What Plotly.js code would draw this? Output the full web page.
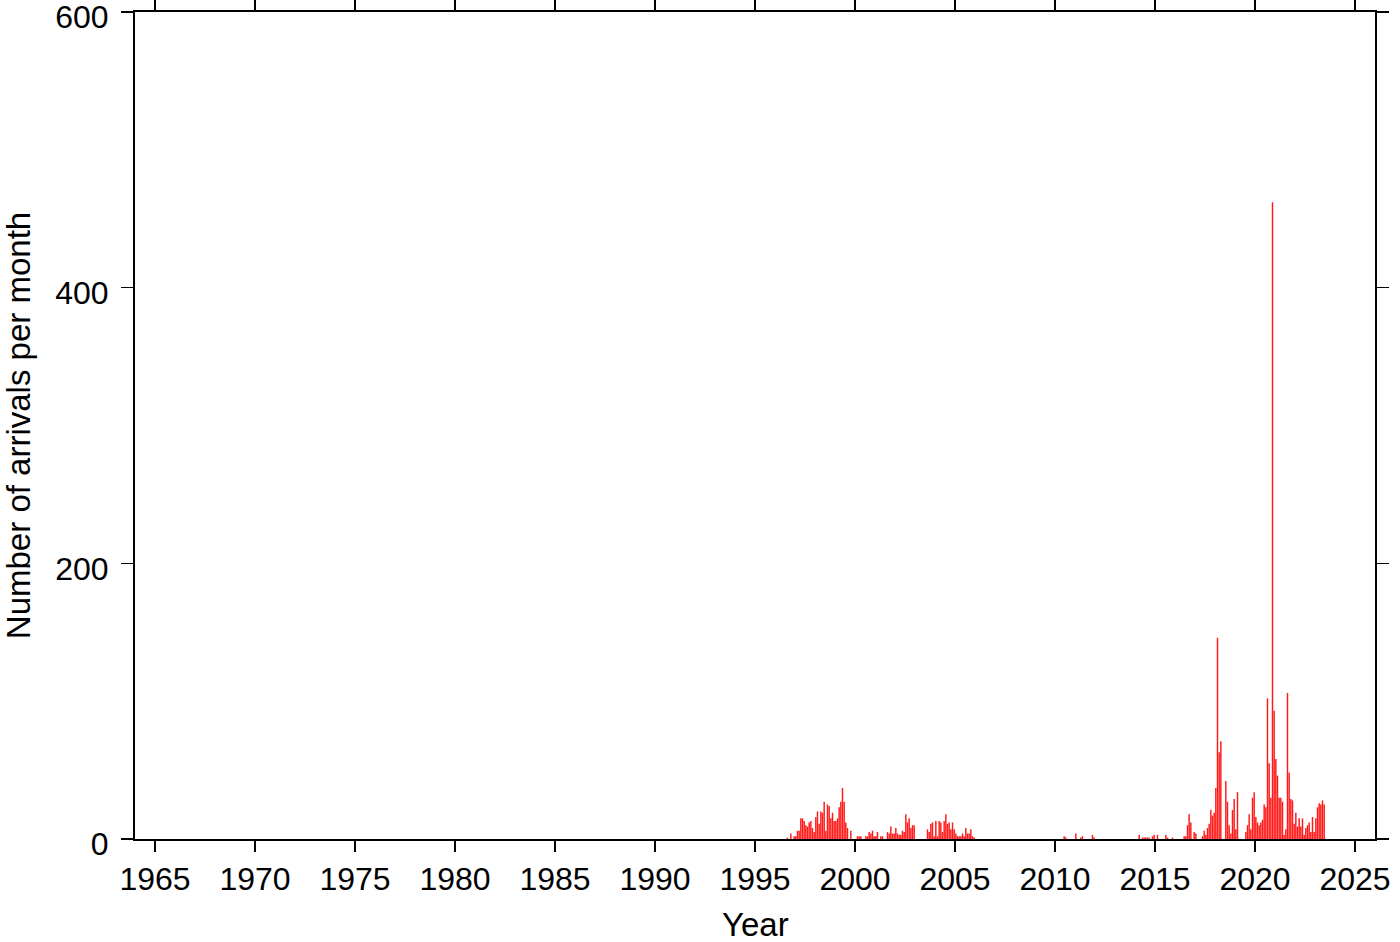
<!DOCTYPE html>
<html><head><meta charset="utf-8">
<script src="https://cdn.plot.ly/plotly-3.0.1.min.js"></script>
<style>html,body{margin:0;padding:0;background:#fff}#chart{width:1400px;height:942px}</style>
</head><body><div id="chart"></div>
<script>
// Monthly arrivals, each segment starts in January of its start year
const startA = 1996;
const countsA = [0,0,0,0,0,0,0,1,0,4,0,2,
  2,6,6,15,15,13,10,9,12,13,8,5,
  16,20,11,20,19,27,6,25,24,15,19,13,
  13,15,23,27,37,27,12,8,0,6,0,0,
  0,2,2,2,0,0,2,2,5,4,6,2,
  2,5,0,2,2,0,0,5,4,9,4,4,
  8,4,3,3,6,5,18,12,15,8,10,10,
  0,0,0,0,0,0,0,7,5,11,12,2,
  13,2,13,12,5,13,18,11,12,7,12,7,
  4,2,2,2,4,2,8,4,4,7,2,1];
const startB = 2009;
const countsB = [0,0,0,0,0,0,0,0,0,0,0,0,
  0,0,0,0,0,2,1,0,0,0,0,0,
  4,0,0,1,2,0,0,0,0,0,3,1,
  0,0,0,0,0,0,0,0,0,0,0,0,
  0,0,0,0,0,0,0,0,0,0,0,0,
  0,0,3,0,1,1,1,1,1,0,2,3,
  0,3,0,0,0,0,3,1,0,0,1,0];
const startC = 2016;
const countsC = [0,0,0,0,0,2,2,10,18,12,0,5,
  4,0,0,0,2,6,3,8,11,21,17,19,
  37,146,63,71,0,0,42,27,10,4,21,29,
  7,34,0,0,0,0,5,10,18,7,30,34,
  16,12,10,12,14,25,23,102,55,30,462,93,
  58,46,30,30,27,3,7,106,48,29,28,11,
  19,9,15,9,15,3,8,10,12,5,16,5,
  15,23,26,25,28,25];
const xTickVals = [1965,1970,1975,1980,1985,1990,1995,2000,2005,2010,2015,2020,2025];
const yTickVals = [0,200,400,600];
const xTitle = 'Year';
const yTitle = 'Number of arrivals per month';

const xs = [], ys = [];
[[startA,countsA],[startB,countsB],[startC,countsC]].forEach(([s,arr])=>{
  arr.forEach((v,m)=>{ xs.push(s + (m+0.5)/12); ys.push(v); });
});

const font = {family:'"Liberation Sans", Arial, Helvetica, sans-serif', size:32, color:'#000'};
const titleFont = {family:'"Liberation Sans", Arial, Helvetica, sans-serif', size:33, color:'#000'};
const trace = {type:'bar', x:xs, y:ys, marker:{color:'#ff1a1a', line:{width:0}}, hoverinfo:'x+y'};
const layout = {
  width:1400, height:942,
  margin:{l:135, r:25, t:12, b:103},
  paper_bgcolor:'#fff', plot_bgcolor:'#fff',
  bargap:0.12,
  showlegend:false,
  font:font,
  xaxis:{range:[1964,2026], tickvals:xTickVals, ticktext:xTickVals.map(String),
    ticks:'outside', ticklen:11, tickwidth:1.2, tickcolor:'#000',
    showline:true, linewidth:2, linecolor:'#000', mirror:'ticks',
    showgrid:false, zeroline:false, tickfont:font, ticklabeloverflow:'allow'},
  yaxis:{range:[0,600], tickvals:yTickVals, ticktext:yTickVals.map(String),
    ticks:'outside', ticklen:12, tickwidth:1.2, tickcolor:'#000',
    showline:true, linewidth:2, linecolor:'#000', mirror:'ticks',
    showgrid:false, zeroline:false, tickfont:font, ticklabeloverflow:'allow',
    ticklabelstandoff:6, ticklabelshift:5,
    title:{text:yTitle, font:titleFont, standoff:21}},
  annotations:[{text:xTitle, xref:'paper', yref:'paper', x:0.5, y:0, xanchor:'center',
    yanchor:'top', yshift:-65, showarrow:false, font:titleFont}]
};
Plotly.newPlot('chart',[trace],layout,{displayModeBar:false, staticPlot:true});
</script></body></html>
